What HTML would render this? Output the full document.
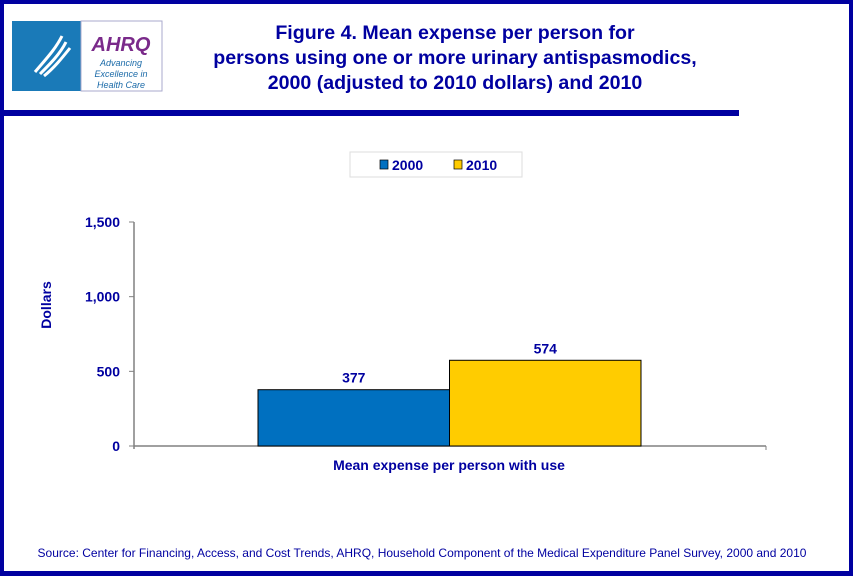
<!DOCTYPE html>
<html><head><meta charset="utf-8"><style>
body{margin:0;width:853px;height:576px;overflow:hidden;background:#fff;font-family:"Liberation Sans",Arial,sans-serif}
#frame{position:absolute;left:0;top:0;width:845px;height:567px;border:4px solid #0000a0;border-bottom-width:5px;background:#fff}
</style></head><body>
<div id="frame"></div>
<svg width="853" height="576" style="position:absolute;left:0;top:0">
<g>
<rect x="12" y="21" width="69" height="70" fill="#1a7ab8"/>
<path d="M35 72 C45 60 55 50 62 36 M40 74 C50 64 60 54 66 42 M44 76 C54 68 62 58 70 48" stroke="#fff" stroke-width="3" fill="none"/>
<rect x="81" y="21" width="81" height="70" fill="#fff" stroke="#aac" stroke-width="1"/>
<text x="121" y="51" text-anchor="middle" font-size="20" font-weight="bold" font-style="italic" fill="#7a2a8a">AHRQ</text>
<text x="121" y="66" text-anchor="middle" font-size="9" font-style="italic" fill="#1a6aa8">Advancing</text>
<text x="121" y="77" text-anchor="middle" font-size="9" font-style="italic" fill="#1a6aa8">Excellence in</text>
<text x="121" y="88" text-anchor="middle" font-size="9" font-style="italic" fill="#1a6aa8">Health Care</text>
</g>
<g font-size="19.6" font-weight="bold" fill="#0000a0" text-anchor="middle">
<text x="455" y="39">Figure 4. Mean expense per person for</text>
<text x="455" y="64">persons using one or more urinary antispasmodics,</text>
<text x="455" y="89">2000 (adjusted to 2010 dollars) and 2010</text>
</g>
<rect x="0" y="110" width="739" height="6" fill="#0000a0"/>
<g>
<rect x="350" y="152" width="172" height="25" fill="#fff" stroke="#ddd"/>
<rect x="380" y="160" width="8" height="9" fill="#0070c0" stroke="#000" stroke-width="0.7"/>
<text x="392" y="170" font-size="14" font-weight="bold" fill="#0000a0">2000</text>
<rect x="454" y="160" width="8" height="9" fill="#ffcc00" stroke="#000" stroke-width="0.7"/>
<text x="466" y="170" font-size="14" font-weight="bold" fill="#0000a0">2010</text>
</g>
<text transform="translate(51,305) rotate(-90)" text-anchor="middle" font-size="14" font-weight="bold" fill="#0000a0">Dollars</text>
<text x="449" y="470" text-anchor="middle" font-size="14" font-weight="bold" fill="#0000a0">Mean expense per person with use</text>
<text x="422" y="557" text-anchor="middle" font-size="12" fill="#0000a0">Source: Center for Financing, Access, and Cost Trends, AHRQ, Household Component of the Medical Expenditure Panel Survey,  2000 and 2010</text>
<g id="plot"></g>
</svg>
<script>
const series = ["2000", "2010"];
const values = [377, 574];
const valueLabels = ["377", "574"];
const colors = ["#0070c0", "#ffcc00"];
const ticks = [0, 500, 1000, 1500];
const tickLabels = ["0", "500", "1,000", "1,500"];
const NS = "http://www.w3.org/2000/svg";
const plot = document.getElementById("plot");
const x0 = 134, x1 = 766, yZero = 446, yTop = 222, yMax = 1500;
const barStart = 258, barW = 191.5;
function y(v){return yZero - (v / yMax) * (yZero - yTop);}
function mk(tag, attrs){const e = document.createElementNS(NS, tag); for (const k in attrs) e.setAttribute(k, attrs[k]); plot.appendChild(e); return e;}
const ax = mk("line", {x1: x0, y1: yTop, x2: x0, y2: yZero + 3, stroke: "#808080", "stroke-width": 1.5});


const bx = mk("line", {x1: x0, y1: yZero, x2: x1, y2: yZero, stroke: "#808080", "stroke-width": 1.5});


const et = mk("line", {x1: x1, y1: yZero, x2: x1, y2: yZero + 4, stroke: "#808080", "stroke-width": 1});


ticks.forEach((t, i) => {
  const tk = mk("line", {x1: x0 - 5, y1: y(t), x2: x0, y2: y(t), stroke: "#808080", "stroke-width": 1});
  
  
  const tl = mk("text", {x: x0 - 14, y: y(t) + 5, "text-anchor": "end", "font-size": 14, "font-weight": "bold", fill: "#0000a0"});
  tl.textContent = tickLabels[i];
  
  
});
values.forEach((v, i) => {
  const bxp = barStart + i * barW;
  const r = mk("rect", {x: bxp, y: y(v), width: barW, height: yZero - y(v), fill: colors[i], stroke: "#000", "stroke-width": 1});
  
  
  const l = mk("text", {x: bxp + barW / 2, y: y(v) - 7, "text-anchor": "middle", "font-size": 14, "font-weight": "bold", fill: "#0000a0"});
  l.textContent = valueLabels[i];
  
  
});
</script>
</body></html>
